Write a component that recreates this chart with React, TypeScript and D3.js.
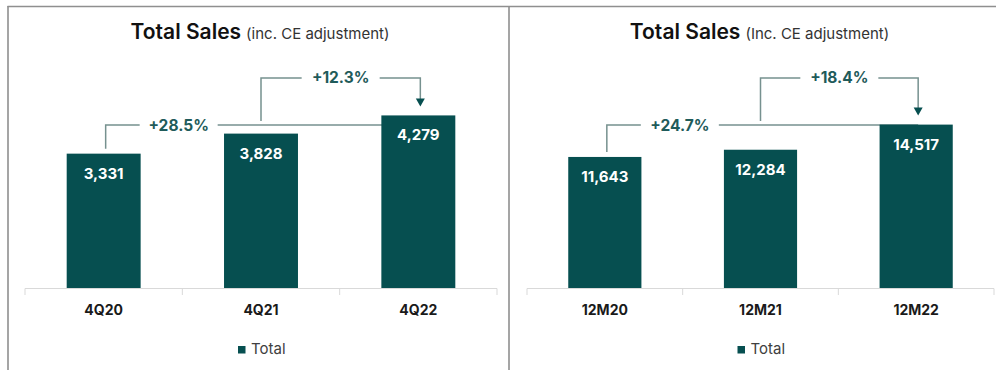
import React from "react";
import * as d3 from "d3";

const leftCategories = ["4Q20", "4Q21", "4Q22"];
const leftValues = [3331, 3828, 4279];
const leftGrowth = ["+28.5%", "+12.3%"];
const leftSubtitle = "(inc. CE adjustment)";

const rightCategories = ["12M20", "12M21", "12M22"];
const rightValues = [11643, 12284, 14517];
const rightGrowth = ["+24.7%", "+18.4%"];
const rightSubtitle = "(Inc. CE adjustment)";

const title = "Total Sales";
const legendLabel = "Total";

const W = 996;
const H = 370;
const BAR = "#064f50";
const LINE = "#76918f";
const ANN_TEXT = "#1f5b5a";
const AXIS = "#d9d9d9";
const FONT = "Inter, 'Noto Sans', sans-serif";

type PanelProps = {
  categories: string[];
  values: number[];
  growth: string[];
  subtitle: string;
  x0: number;
  x1: number;
  yMax: number;
};

function Panel({ categories, values, growth, subtitle, x0, x1, yMax }: PanelProps) {
  const x = d3.scaleBand<string>().domain(categories).range([x0, x1]).paddingInner(0.53).paddingOuter(0.265);
  const y = d3.scaleLinear().domain([0, yMax]).range([288, 46]);
  const step = x.step();
  const bw = x.bandwidth();
  const cx = (c: string) => (x(c) as number) + bw / 2;
  const ticks = categories.map((c) => (x(c) as number) - (step * 0.53) / 2).concat([x1]);
  const mid = (x0 + x1) / 2;
  const level1 = 125;
  const level2 = 78;
  const gapHalf = 39;

  const a1x = cx(categories[0]) + 2;
  const a1text = a1x + 73;
  const a1end = cx(categories[2]) + 2;
  const a2x = cx(categories[1]);
  const a2end = cx(categories[2]) + 2;
  const a2text = (a2x + a2end) / 2;
  const tipY = y(values[2]) - 9;

  return (
    <g fontFamily={FONT}>
      <text x={mid - 1} y={39} textAnchor="middle" fill="#111">
        <tspan fontSize={21} fontWeight={600}>{title}</tspan>
        <tspan fontSize={15} fill="#333" dx={5}>{subtitle}</tspan>
      </text>

      <g stroke={LINE} strokeWidth={1.5} fill="none">
        <path d={`M${a1x},${y(values[0]) - 5}V${level1}H${a1text - gapHalf}`} />
        <path d={`M${a1text + gapHalf},${level1}H${a1end}`} />
        <path d={`M${a2x},${level1 - 4}V${level2}H${a2text - gapHalf}`} />
        <path d={`M${a2text + gapHalf},${level2}H${a2end}V${tipY - 7}`} />
      </g>
      <path d={`M${a2end - 4.5},${tipY - 8}L${a2end + 4.5},${tipY - 8}L${a2end},${tipY}Z`} fill={BAR} />
      <text x={a1text} y={level1 + 6} textAnchor="middle" fontSize={15.5} fontWeight={700} fill={ANN_TEXT}>{growth[0]}</text>
      <text x={a2text} y={level2 + 5} textAnchor="middle" fontSize={15.5} fontWeight={700} fill={ANN_TEXT}>{growth[1]}</text>

      {categories.map((c, i) => (
        <g key={c}>
          <rect x={x(c)} y={y(values[i])} width={bw} height={y(0) - y(values[i])} fill={BAR} />
          <text x={cx(c)} y={y(values[i]) + 25} textAnchor="middle" fontSize={15} fontWeight={700} fill="#fff">
            {d3.format(",")(values[i])}
          </text>
          <text x={cx(c)} y={315} textAnchor="middle" fontSize={14} fontWeight={700} fill="#1a1a1a">{c}</text>
        </g>
      ))}

      <line x1={x0} x2={x1} y1={288.5} y2={288.5} stroke={AXIS} strokeWidth={1} />
      {ticks.map((t, i) => (
        <line key={i} x1={t} x2={t} y1={288.5} y2={295} stroke={AXIS} strokeWidth={1} />
      ))}

      <rect x={mid - 23} y={346} width={7.5} height={7.5} fill={BAR} />
      <text x={mid - 10} y={354} fontSize={15} fill="#404040">{legendLabel}</text>
    </g>
  );
}

export default function App() {
  return (
    <svg width={W} height={H} style={{ position: "absolute", left: 0, top: 0, background: "#fff" }}>
      <rect width={W} height={H} fill="#fff" />
      <g stroke="#8f8f8f" strokeWidth={1.6}>
        <line x1={7.5} x2={W} y1={6.5} y2={6.5} />
        <line x1={8} x2={8} y1={6} y2={H} />
        <line x1={509} x2={509} y1={6} y2={H} />
      </g>
      <Panel categories={leftCategories} values={leftValues} growth={leftGrowth} subtitle={leftSubtitle} x0={25} x1={497} yMax={6000} />
      <Panel categories={rightCategories} values={rightValues} growth={rightGrowth} subtitle={rightSubtitle} x0={527} x1={994} yMax={21500} />
    </svg>
  );
}
